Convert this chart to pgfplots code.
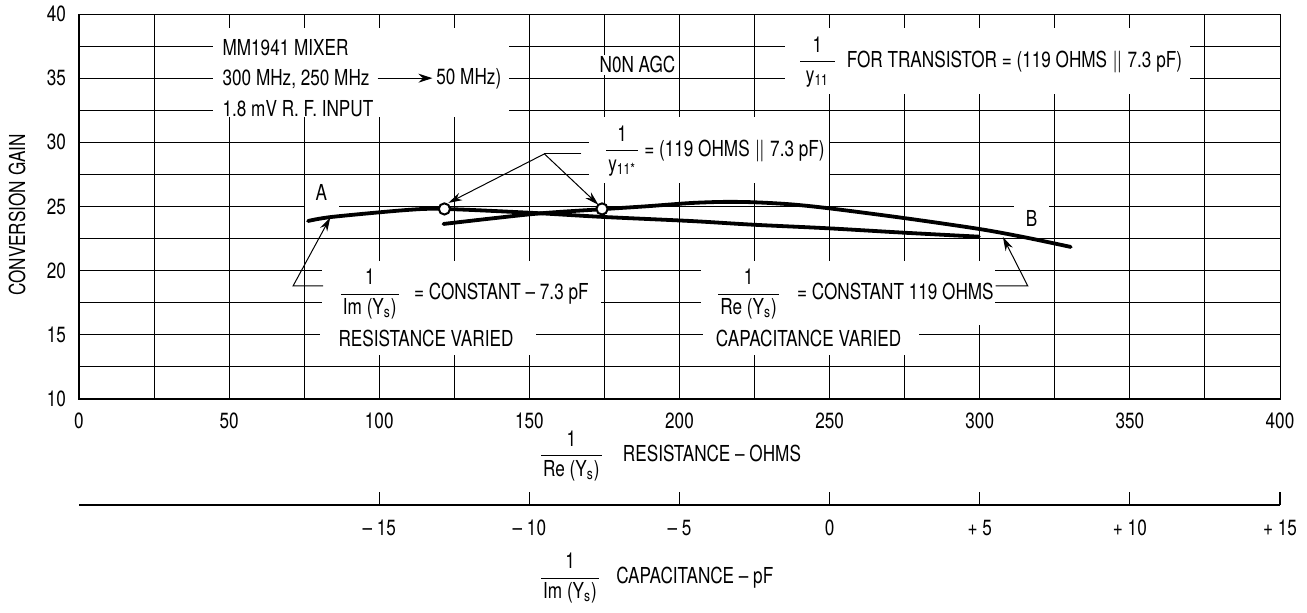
\documentclass[border=0pt]{standalone}
\usepackage{fontspec}
\setmainfont{TeX Gyre Heros}[FakeStretch=0.78]
\usepackage{pgfplots}
\pgfplotsset{compat=1.18}
\usetikzlibrary{arrows.meta}
\newcommand{\fr}[2]{$\displaystyle\frac{\mbox{#1}}{\mbox{\kern1pt #2\kern1pt}}$}
\begin{document}
\fontsize{11}{13}\selectfont
\begin{tikzpicture}
\begin{axis}[
  scale only axis, width=600.5pt, height=192.5pt,
  xmin=0, xmax=400, ymin=10, ymax=40,
  xtick={0,25,...,400},
  xticklabels={0,,50,,100,,150,,200,,250,,300,,350,,400},
  ytick={10,12.5,...,40},
  yticklabels={10,,15,,20,,25,,30,,35,,40},
  grid=major,
  major grid style={line width=0.5pt, black},
  major tick length=0pt,
  axis line style={line width=0.5pt},
  /pgf/number format/assume math mode=true,
  xticklabel style={yshift=-3.2pt},
  yticklabel style={xshift=-2.7pt},
  clip=false,
]
% white label boxes
\fill[white] (axis cs:44.7,38.92) rectangle (axis cs:143.3,31.98);
\fill[white] (axis cs:235.3,38.92) rectangle (axis cs:370,33.77);
\fill[white] (axis cs:169.7,31.98) rectangle (axis cs:249.7,26.84);
\fill[white] (axis cs:75.3,26.52) rectangle (axis cs:86.7,24.65);
\fill[white] (axis cs:311.3,26.3) rectangle (axis cs:323,23.0);
\fill[white] (axis cs:81,20.76) rectangle (axis cs:173.7,16.16);
\fill[white] (axis cs:80.3,16.2) rectangle (axis cs:152.3,13.43);
\fill[white] (axis cs:207,20.76) rectangle (axis cs:305,15.77);
\fill[white] (axis cs:207.7,15.8) rectangle (axis cs:279.7,13.43);

% curve A: capacitance constant, resistance varied
\addplot[black, line width=1.9pt, smooth, tension=0.5, line cap=round] coordinates {
(76.3,23.87) (84.3,24.19) (109.3,24.73) (121.7,24.81) (151.3,24.50) (174.3,24.19)
(203.7,23.87) (224.7,23.58) (249.7,23.30) (274.7,22.96) (299.7,22.65)};
% curve B: resistance constant, capacitance varied
\addplot[black, line width=1.9pt, smooth, tension=0.5, line cap=round] coordinates {
(121.4,23.64) (151.4,24.42) (174.2,24.79) (189.2,25.02) (203.7,25.27) (214.8,25.36)
(224.8,25.33) (237,25.17) (249.8,24.86) (274.8,24.10) (299.8,23.25) (315,22.60) (330.3,21.85)};
% matching points
\addplot[only marks, mark=*, mark size=2.8pt, mark options={fill=white, draw=black, line width=1pt}] coordinates {(121.7,24.81) (174.2,24.81)};

% texts
\node[anchor=west, inner sep=0pt] at (axis cs:47.7,37.4) {MM1941 MIXER};
\node[anchor=west, inner sep=0pt] at (axis cs:47.7,34.95) {300 MHz, 250 MHz};
\draw[line width=0.6pt, -{Stealth[length=7pt,width=4.5pt]}] (axis cs:99.5,35.0) -- (axis cs:117.7,35.0);
\node[anchor=west, inner sep=0pt] at (axis cs:118.9,34.95) {50 MHz)};
\node[anchor=west, inner sep=0pt] at (axis cs:47.7,32.6) {1.8 mV R. F. INPUT};
\node[fill=white, inner sep=1pt] at (axis cs:186,36.03) {N0N AGC};
\node[anchor=west, inner sep=0pt] at (axis cs:239.3,36.27) {\fr{1}{\,y\textsubscript{11}\,}\hspace{5pt}FOR TRANSISTOR = (119 OHMS $\|$ 7.3 pF)};
\node[anchor=west, inner sep=0pt] at (axis cs:174.7,29.33) {\fr{1}{y\textsubscript{11*}}\hspace{2pt}= (119 OHMS $\|$ 7.3 pF)};
\node at (axis cs:80.7,26.06) {A};
\node at (axis cs:317.3,24.1) {B};
\node[anchor=west, inner sep=0pt] at (axis cs:86.3,18.18) {\fr{1}{Im (Y\textsubscript{s})}\hspace{6.5pt}= CONSTANT -- 7.3 pF};
\node[anchor=west, inner sep=0pt] at (axis cs:86.3,14.75) {RESISTANCE VARIED};
\node[anchor=west, inner sep=0pt] at (axis cs:212,18.18) {\fr{1}{Re (Y\textsubscript{s})}\hspace{8pt}= CONSTANT 119 OHMS};
\node[anchor=west, inner sep=0pt] at (axis cs:212,14.75) {CAPACITANCE VARIED};

% leaders
\draw[line width=0.5pt, -{Stealth[length=7pt,width=4pt]}] (axis cs:81.3,18.81) -- (axis cs:71.3,18.81) -- (axis cs:83.7,24.15);
\draw[line width=0.5pt, -{Stealth[length=7pt,width=4pt]}] (axis cs:305.3,18.81) -- (axis cs:316,18.81) -- (axis cs:307.7,22.63);
\draw[line width=0.5pt] (axis cs:167.3,29.1) -- (axis cs:155,29.1);
\draw[line width=0.5pt, -{Stealth[length=7pt,width=4pt]}] (axis cs:155,29.1) -- (axis cs:123,25.28);
\draw[line width=0.5pt, -{Stealth[length=7pt,width=4pt]}] (axis cs:155,29.1) -- (axis cs:173,25.13);

% axis titles
\node[rotate=90] at ([xshift=-31pt]rel axis cs:0,0.478) {CONVERSION GAIN};
\node[anchor=west, inner sep=0pt] at (axis cs:153,5.56) {\fr{1}{Re (Y\textsubscript{s})}\hspace{9.5pt}RESISTANCE -- OHMS};
\node[anchor=west, inner sep=0pt] at (axis cs:153,-3.95) {\fr{1}{Im (Y\textsubscript{s})}\hspace{7.5pt}CAPACITANCE -- pF};

% heavy left and bottom frame
\draw[line width=1.4pt] (rel axis cs:0,1) -- (rel axis cs:0,0) -- (rel axis cs:1,0);
\end{axis}

\begin{axis}[
  at={(0pt,-53pt)},
  scale only axis, width=600.5pt, height=20pt,
  xmin=-25, xmax=15, ymin=0, ymax=1,
  axis x line=bottom, axis y line=none,
  axis line style={line width=1pt, -},
  xtick={-15,-10,...,15},
  xticklabels={-- 15,-- 10,-- 5,0,+ 5,+ 10,+ 15},
  tick align=inside, major tick length=6.5pt,
  tick style={line width=0.6pt, black},
  xticklabel style={yshift=-3.7pt},
]
\addplot[draw=none] coordinates {(0,0.5)};
\end{axis}
\pgfresetboundingbox
\path[use as bounding box] (-39.5pt,-106.5pt) rectangle (614pt,199.5pt);
\end{tikzpicture}
\end{document}
